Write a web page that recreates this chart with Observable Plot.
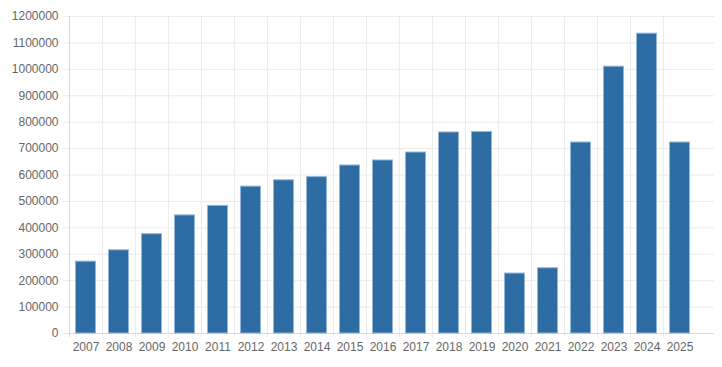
<!DOCTYPE html>
<html>
<head>
<meta charset="utf-8">
<script src="https://cdn.jsdelivr.net/npm/d3@7"></script>
<script src="https://cdn.jsdelivr.net/npm/@observablehq/plot@0.6"></script>
<style>
  html, body { margin: 0; padding: 0; background: #fff; }
</style>
</head>
<body>
<div id="chart"></div>
<script>
const years = ["2007","2008","2009","2010","2011","2012","2013","2014","2015","2016","2017","2018","2019","2020","2021","2022","2023","2024","2025"];
const values = [272000, 315000, 376000, 447000, 483000, 556000, 580000, 592000, 636000, 655000, 685000, 761000, 763000, 227000, 247000, 723000, 1010000, 1135000, 723000];
const yTicks = [0, 100000, 200000, 300000, 400000, 500000, 600000, 700000, 800000, 900000, 1000000, 1100000, 1200000];

const data = years.map((y, i) => ({year: y, value: values[i]}));

const W = 722, H = 367;
const xRange = [68, 697];
const bw = (xRange[1] - xRange[0]) / years.length;
const grid = "#ebebeb";
const axisCol = "#d9d9d9";

const chart = Plot.plot({
  width: W,
  height: H,
  marginLeft: 68,
  marginRight: 8,
  marginTop: 16,
  marginBottom: 34,
  style: {fontFamily: "'Liberation Sans', Arial, sans-serif", fontSize: "12px", color: "#666", background: "#fff"},
  x: {type: "band", domain: years, range: xRange, padding: 0, label: null},
  y: {domain: [0, 1200000], label: null},
  marks: [
    Plot.ruleY(yTicks.slice(1), {stroke: grid, strokeOpacity: 1}),
    Plot.ruleX(years.slice(1), {x: d => d, dx: -bw / 2, stroke: grid, strokeOpacity: 1, insetBottom: -4}),
    Plot.ruleX(years.slice(0, 1), {x: d => d, dx: -bw / 2, stroke: axisCol, strokeOpacity: 1, insetBottom: -4}),
    Plot.ruleY([0], {stroke: axisCol, strokeOpacity: 1}),
    Plot.barY(data, {x: "year", y: "value", fill: "#2e6da4", stroke: "#94b4d8", strokeWidth: 1, insetLeft: 6.5, insetRight: 6.5}),
    Plot.axisY({ticks: yTicks, tickSize: 5, tickPadding: 5, stroke: grid, strokeOpacity: 1, tickFormat: d => String(d), label: null, fill: "#666"}),
    Plot.axisX({tickSize: 0, tickPadding: 9, label: null, fill: "#666"})
  ]
});
document.getElementById("chart").appendChild(chart);
</script>
</body>
</html>
